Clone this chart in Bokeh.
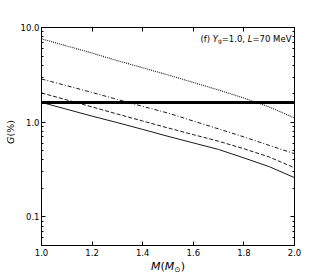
import math
from bokeh.plotting import figure
from bokeh.layouts import row, column
from bokeh.models import FixedTicker, LinearAxis, LogAxis, Label, CustomJSTickFormatter
from bokeh.embed import file_html
from bokeh.resources import INLINE

# ---- data ----
mass = [1.0, 1.1, 1.2, 1.3, 1.4, 1.5, 1.6, 1.7, 1.8, 1.9, 2.0]
g_dotted = [7.59, 6.38, 5.37, 4.47, 3.76, 3.16, 2.63, 2.19, 1.80, 1.45, 1.11]
g_dashdot = [2.86, 2.43, 2.06, 1.74, 1.47, 1.25, 1.03, 0.85, 0.70, 0.57, 0.465]
g_dashed = [2.04, 1.72, 1.45, 1.22, 1.03, 0.87, 0.74, 0.63, 0.525, 0.43, 0.33]
g_solid = [1.62, 1.37, 1.16, 0.99, 0.84, 0.71, 0.605, 0.516, 0.42, 0.34, 0.26]
thick_mass = [1.0, 2.0]
g_thick = [1.62, 1.62]

x_ticks = [1.0, 1.2, 1.4, 1.6, 1.8, 2.0]
y_ticks = [0.1, 1.0, 10.0]
y_minor = [0.05, 0.06, 0.07, 0.08, 0.09, 0.2, 0.3, 0.4, 0.5, 0.6, 0.7, 0.8, 0.9,
           2, 3, 4, 5, 6, 7, 8, 9]

# ---- layout ----
TOTAL_W, TOTAL_H = 327, 273
YW = 15                      # strip holding the y label
XH = 15                      # strip holding the x label
PW = TOTAL_W - YW
PH = TOTAL_H - XH
BL, BR, BT, BB = 26, 33, 27, 13
FW = PW - BL - BR
FH = PH - BT - BB
FONT = "DejaVu Sans"
TICK_FS = "8.5px"

p = figure(width=PW, height=PH, x_range=(1.0, 2.0), y_range=(0.05, 10.0),
           y_axis_type="log", output_backend="svg", toolbar_location=None,
           min_border_left=BL, min_border_right=BR, min_border_top=BT,
           min_border_bottom=BB)
p.background_fill_color = "white"
p.border_fill_color = "white"
p.outline_line_color = "black"
p.outline_line_width = 1
p.xgrid.visible = False
p.ygrid.visible = False


def style(ax):
    ax.axis_line_color = None
    ax.major_tick_in = 4
    ax.major_tick_out = 0
    ax.minor_tick_in = 2
    ax.minor_tick_out = 0
    ax.major_tick_line_color = "black"
    ax.minor_tick_line_color = "black"
    ax.major_label_text_font = FONT
    ax.major_label_text_font_size = TICK_FS
    ax.major_label_text_color = "black"
    ax.major_label_standoff = 2


fmt = CustomJSTickFormatter(code="return tick.toFixed(1)")
blank = CustomJSTickFormatter(code="return ''")

xa = p.xaxis[0]
xa.ticker = FixedTicker(ticks=x_ticks)
xa.formatter = fmt
style(xa)
xa.minor_tick_line_color = None
xa.major_label_standoff = 3

ya = p.yaxis[0]
ya.ticker = FixedTicker(ticks=y_ticks, minor_ticks=y_minor)
ya.formatter = fmt
style(ya)

top = LinearAxis(ticker=FixedTicker(ticks=x_ticks), formatter=blank)
style(top)
top.minor_tick_line_color = None
p.add_layout(top, "above")

right = LogAxis(ticker=FixedTicker(ticks=y_ticks, minor_ticks=y_minor), formatter=blank)
style(right)
p.add_layout(right, "right")

# ---- lines ----
LC = "#1a1a1a"
p.line(mass, g_dotted, line_color=LC, line_width=1.1, line_dash="1 1")
p.line(mass, g_dashdot, line_color=LC, line_width=1, line_dash="4 2 1 2")
p.line(mass, g_dashed, line_color=LC, line_width=1, line_dash="4 2")
p.line(mass, g_solid, line_color=LC, line_width=1)
p.line(thick_mass, g_thick, line_color="black", line_width=3)

# ---- text pieces (mathtext imitation) ----
EM = {'(': 0.390, ')': 0.390, 'f': 0.352, ' ': 0.318, '=': 0.838, '1': 0.636,
      '.': 0.318, '0': 0.636, ',': 0.318, '7': 0.636, 'M': 0.863, 'e': 0.615,
      'V': 0.684, 'Y': 0.611, 'L': 0.557, 'g': 0.635, 'G': 0.775, '%': 0.950,
      '\u2299': 0.838}


def tw(t, size):
    return sum(EM.get(c, 0.6) for c in t) * size


def add_pieces(fig, pieces, start, base, angle=0.0):
    pos = start
    for text, italic, size, dy in pieces:
        kw = dict(text=text, text_font=FONT, text_font_size=f"{size}px",
                  text_font_style="italic" if italic else "normal",
                  text_color="black", text_align="left", x_units="screen",
                  y_units="screen")
        if angle == 0.0:
            lab = Label(x=pos, y=base + dy, text_baseline="alphabetic", **kw)
        else:
            lab = Label(x=base - dy, y=pos, text_baseline="middle", angle=angle, **kw)
        fig.add_layout(lab)
        pos += tw(text, size)


# annotation, right aligned near the top-right corner of the frame
ann = [("(f) ", False, 8.5, 0), ("Y", True, 8.5, 0), ("g", False, 6, -2),
       ("=1.0, ", False, 8.5, 0), ("L", True, 8.5, 0), ("=70 MeV", False, 8.5, 0)]
ann_w = sum(tw(t, s) for t, _, s, _ in ann)
add_pieces(p, ann, FW - 3 - ann_w, FH - 11)


def strip(w, h, bl=0, br=0):
    f = figure(width=w, height=h, output_backend="svg", toolbar_location=None,
               x_axis_location=None, y_axis_location=None,
               min_border_left=bl, min_border_right=br, min_border_top=0,
               min_border_bottom=0, x_range=(0, 1), y_range=(0, 1))
    f.outline_line_color = None
    f.background_fill_color = "white"
    f.border_fill_color = "white"
    f.grid.visible = False
    return f


# x axis label  M(M_sun) -- strip below the plot, same frame as the plot
xlab = strip(PW, XH, BL, BR)
xl = [("M", True, 11, 0), ("(", False, 11, 0), ("M", True, 11, 0),
      ("\u2299", False, 7.5, -2.5), (")", False, 11, 0)]
xl_w = sum(tw(t, s) for t, _, s, _ in xl)
add_pieces(xlab, xl, FW / 2 - xl_w / 2, 7)

# y axis label  G(%) -- strip left of the plot
ylab = strip(YW, TOTAL_H)
yl = [("G", True, 9.5, 0), ("(%)", False, 9.5, 0)]
yl_w = sum(tw(t, s) for t, _, s, _ in yl)
ycenter = TOTAL_H - 131.5
add_pieces(ylab, yl, ycenter - yl_w / 2, 9.5, angle=math.pi / 2)

layout = row(ylab, column(p, xlab, spacing=0), spacing=0)
open("out.html", "w").write(file_html(layout, INLINE))
